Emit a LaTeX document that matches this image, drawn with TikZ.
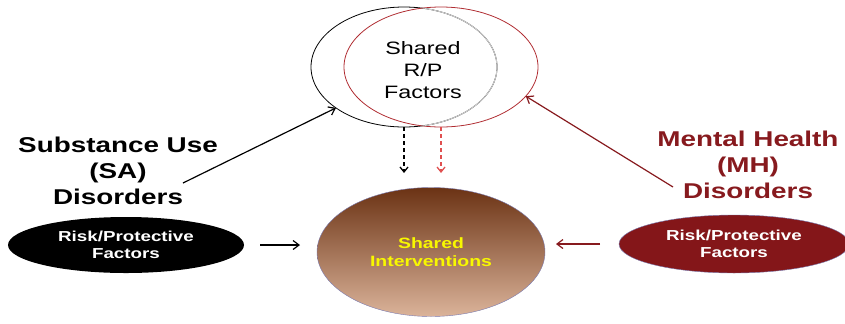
\documentclass[tikz,border=0pt]{standalone}
\usepackage{fontspec}
\setmainfont[FakeStretch=1.3]{Liberation Sans}
\usetikzlibrary{shapes.geometric, arrows.meta}

\definecolor{mhred}{HTML}{871A1E}
\definecolor{rpred}{HTML}{841619}
\definecolor{vennred}{HTML}{B02D32}
\definecolor{dashred}{HTML}{E05050}
\definecolor{rpedge}{HTML}{7A7AB0}
\definecolor{inttop}{HTML}{6B3314}
\definecolor{intmid}{HTML}{A65A2E}
\definecolor{intbot}{HTML}{DBB39A}
\definecolor{intyellow}{HTML}{F8F800}

\begin{document}
\begin{tikzpicture}[x=1bp, y=-1bp,
  venn/.style={ellipse, minimum width=#1, minimum height=120bp, inner sep=0pt, outer sep=0pt, line width=0.8pt},
  rp/.style={ellipse, minimum width=236bp, minimum height=56bp, inner sep=0pt, outer sep=0pt, text=white, align=center, font=\fontsize{14.5}{17}\selectfont\bfseries},
  head/.style={align=center, font=\fontsize{21.5}{26}\selectfont\bfseries},
  link/.style={line width=1.2pt, -{Straight Barb[length=6bp, width=9bp]}},
  dlink/.style={line width=1.3pt, -{Straight Barb[length=5bp, width=8bp]}, dash pattern=on 4bp off 3bp}]
  \useasboundingbox (0,0) rectangle (845,323);
  \clip (0,0) rectangle (845,323);

  % shared factors (two overlapping ellipses)
  \node[venn=186bp, draw=black] (sa) at (404,67) {};
  \node[venn=194bp, draw=vennred] (mh) at (441,67) {};
  \begin{scope}
    \clip (441,67) ellipse [x radius=96.6, y radius=59.6];
    \draw[gray!40, line width=1pt] (404,67) ellipse [x radius=93, y radius=60];
  \end{scope}
  \node[font=\fontsize{18}{22}\selectfont, align=center] (shared) at (423,70) {Shared\\R/P\\Factors};

  % disorders
  \node[head] (salabel) at (118,171) {Substance Use\\(SA)\\Disorders};
  \node[head, text=mhred] (mhlabel) at (748,165) {Mental Health\\(MH)\\Disorders};

  % risk/protective factors and interventions
  \node[rp, fill=black] (rpsa) at (126,245) {Risk/Protective\\Factors};
  \node[rp, fill=rpred, draw=rpedge, line width=0.4pt, minimum width=230bp, minimum height=58bp] (rpmh) at (734,244) {Risk/Protective\\Factors};
  \node[ellipse, minimum width=228bp, minimum height=129bp, inner sep=0pt, outer sep=0pt,
        draw=rpedge, line width=0.4pt, top color=inttop, middle color=intmid, bottom color=intbot,
        text=intyellow, align=center, font=\fontsize{15}{18}\selectfont\bfseries] (int) at (431,252) {Shared\\Interventions};

  \coordinate (saout) at (183,183);
  \coordinate (mhout) at (673,187);
  \coordinate (sadown) at (404,173);
  \coordinate (mhdown) at (441,173);

  \draw[link] (saout) -- (sa.211);
  \draw[link, mhred] (mhout) -- (mh.-19);
  \draw[dlink] (sa.south) -- (sadown);
  \draw[dlink, dashred] (mh.south) -- (mhdown);
  \draw[link, shorten <=16bp, shorten >=17bp] (rpsa.east) -- (rpsa.east -| int.west);
  \draw[link, mhred, shorten <=19bp, shorten >=11bp] (rpmh.west) -- (rpmh.west -| int.east);
\end{tikzpicture}
\end{document}
